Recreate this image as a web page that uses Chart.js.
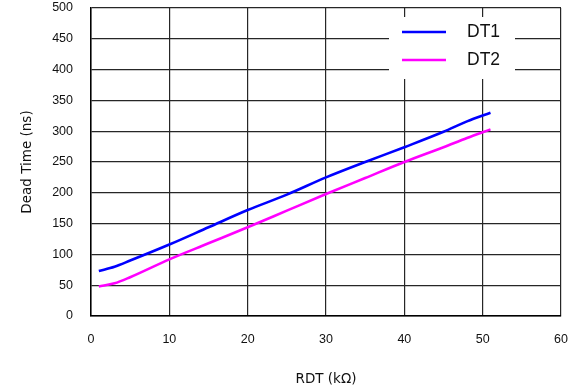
<!DOCTYPE html>
<html lang="en">

<head>
    <meta charset="UTF-8">
    <title>Dead Time vs RDT</title>
    <script src="https://cdn.jsdelivr.net/npm/chart.js@4"></script>
    <style>
        html, body {
            margin: 0;
            padding: 0;
            background: #fff;
        }

        #chartContainer {
            position: relative;
            width: 577px;
            height: 391px;
        }
    </style>
</head>

<body>
    <div id="chartContainer">
        <canvas id="dtChart"></canvas>
    </div>

    <script>
        // RDT (kOhm) sample points and measured dead times (ns)
        const rdtValues = [1, 3, 5, 10, 15, 20, 25, 30, 35, 40, 45, 48, 51];
        const dt1Values = [73, 80, 90, 116, 144, 172, 197, 225, 250, 274, 299, 316, 330];
        const dt2Values = [48, 53, 63, 92, 118, 144, 171, 198, 224, 250, 274, 289, 303];

        const seriesLabels = ['DT1', 'DT2'];
        const seriesColors = ['#0000ff', '#ff00ff'];

        const xTicks = [0, 10, 20, 30, 40, 50, 60];
        const yTicks = [0, 50, 100, 150, 200, 250, 300, 350, 400, 450, 500];

        const toPoints = (ys) => rdtValues.map((x, i) => ({ x: x, y: ys[i] }));

        // legend drawn as a white box inside the plot, top right
        const boxLegend = {
            id: 'boxLegend',
            afterDraw(chart) {
                const ctx = chart.ctx;
                const boxLeft = 389, boxTop = 17, boxW = 126, boxH = 62;
                ctx.save();
                ctx.fillStyle = '#fff';
                ctx.fillRect(boxLeft, boxTop, boxW, boxH);
                chart.data.datasets.forEach((ds, i) => {
                    const y = boxTop + 15 + i * 28;
                    ctx.strokeStyle = ds.borderColor;
                    ctx.lineWidth = 2.5;
                    ctx.beginPath();
                    ctx.moveTo(boxLeft + 13, y);
                    ctx.lineTo(boxLeft + 57, y);
                    ctx.stroke();
                    ctx.fillStyle = '#111';
                    ctx.font = '17.5px "Liberation Sans", Arial, sans-serif';
                    ctx.textBaseline = 'middle';
                    ctx.textAlign = 'left';
                    ctx.fillText(ds.label, boxLeft + 78, y);
                });
                ctx.restore();
            }
        };

        const ctx = document.getElementById('dtChart').getContext('2d');
        const dtChart = new Chart(ctx, {
            type: 'line',
            data: {
                datasets: seriesLabels.map((label, i) => ({
                    label: label,
                    data: toPoints(i === 0 ? dt1Values : dt2Values),
                    borderColor: seriesColors[i],
                    backgroundColor: seriesColors[i],
                    borderWidth: 2.6,
                    pointRadius: 0,
                    pointHoverRadius: 0,
                    fill: false,
                    cubicInterpolationMode: 'monotone'
                }))
            },
            options: {
                responsive: true,
                maintainAspectRatio: false,
                animation: false,
                layout: {
                    padding: { left: 0, right: 16, top: 8, bottom: 0 }
                },
                scales: {
                    x: {
                        type: 'linear',
                        min: xTicks[0],
                        max: xTicks[xTicks.length - 1],
                        afterBuildTicks: (scale) => { scale.ticks = xTicks.map(v => ({ value: v })); },
                        afterFit: (scale) => {
                            scale.height = 75;
                            scale.paddingLeft = 0;
                            scale.paddingRight = 0;
                        },
                        grid: {
                            color: '#262626',
                            lineWidth: 1.2,
                            drawTicks: false
                        },
                        border: { display: true, color: '#000', width: 1.5 },
                        ticks: {
                            padding: 17,
                            color: '#111',
                            font: { family: '"Liberation Sans", Arial, sans-serif', size: 12.5, lineHeight: 1 }
                        },
                        title: {
                            display: true,
                            text: 'RDT (kΩ)',
                            color: '#111',
                            padding: { top: 0, bottom: 3 },
                            font: { family: '"DejaVu Sans", sans-serif', size: 13.5 }
                        }
                    },
                    y: {
                        min: yTicks[0],
                        max: yTicks[yTicks.length - 1],
                        afterBuildTicks: (scale) => { scale.ticks = yTicks.map(v => ({ value: v })); },
                        afterFit: (scale) => {
                            scale.width = 91;
                            scale.paddingTop = 0;
                            scale.paddingBottom = 0;
                        },
                        grid: {
                            color: '#262626',
                            lineWidth: 1.2,
                            drawTicks: false
                        },
                        border: { display: true, color: '#000', width: 1.5 },
                        ticks: {
                            padding: 18,
                            color: '#111',
                            font: { family: '"Liberation Sans", Arial, sans-serif', size: 12.5, lineHeight: 1 }
                        },
                        title: {
                            display: true,
                            text: 'Dead Time (ns)',
                            color: '#111',
                            padding: { top: 19, bottom: 0 },
                            font: { family: '"DejaVu Sans", sans-serif', size: 13.5 }
                        }
                    }
                },
                plugins: {
                    legend: { display: false },
                    tooltip: { enabled: false }
                }
            },
            plugins: [boxLegend]
        });
    </script>
</body>

</html>
